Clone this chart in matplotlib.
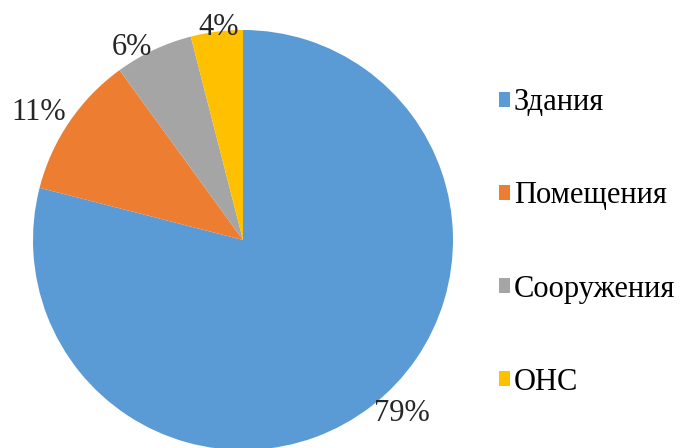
import numpy as np
import matplotlib.pyplot as plt
from matplotlib.patches import Patch

plt.rcParams['font.family'] = ['Liberation Serif', 'DejaVu Serif']

categories = ['Здания', 'Помещения', 'Сооружения', 'ОНС']
shares = [79, 11, 6, 4]
colors = ['#5B9BD5', '#ED7D31', '#A5A5A5', '#FFC000']
# label placement (radius, angle in degrees) tuned to look like the original
label_pos = [(1.12, -47.5), (1.15, 148), (1.06, 120), (1.02, 96.5)]

fig = plt.figure(figsize=(6.81, 4.48), dpi=100)
W, H = 681, 448
cx, cy, r = 243, 240, 210
ax = fig.add_axes([(cx - r) / W, (H - cy - r) / H, 2 * r / W, 2 * r / H])

wedges, _ = ax.pie(shares, colors=colors, startangle=90, counterclock=False,
                   radius=1, wedgeprops=dict(linewidth=0))
ax.set_xlim(-1, 1)
ax.set_ylim(-1, 1)
ax.set_aspect('equal')
ax.axis('off')

for v, (d, a) in zip(shares, label_pos):
    t = np.deg2rad(a)
    ax.text(d * np.cos(t), d * np.sin(t), f'{v}%', ha='center', va='center',
            fontsize=22, color='#262626', clip_on=False)

handles = [Patch(facecolor=c, edgecolor='none') for c in colors]
fig.legend(handles, categories, loc='upper left', bbox_to_anchor=(487 / W, 1 - 76 / H),
           frameon=False, fontsize=22, handlelength=0.36, handleheight=0.36,
           handletextpad=0.12, labelspacing=2.1, borderaxespad=0)

fig.savefig('out.png', dpi=100)
